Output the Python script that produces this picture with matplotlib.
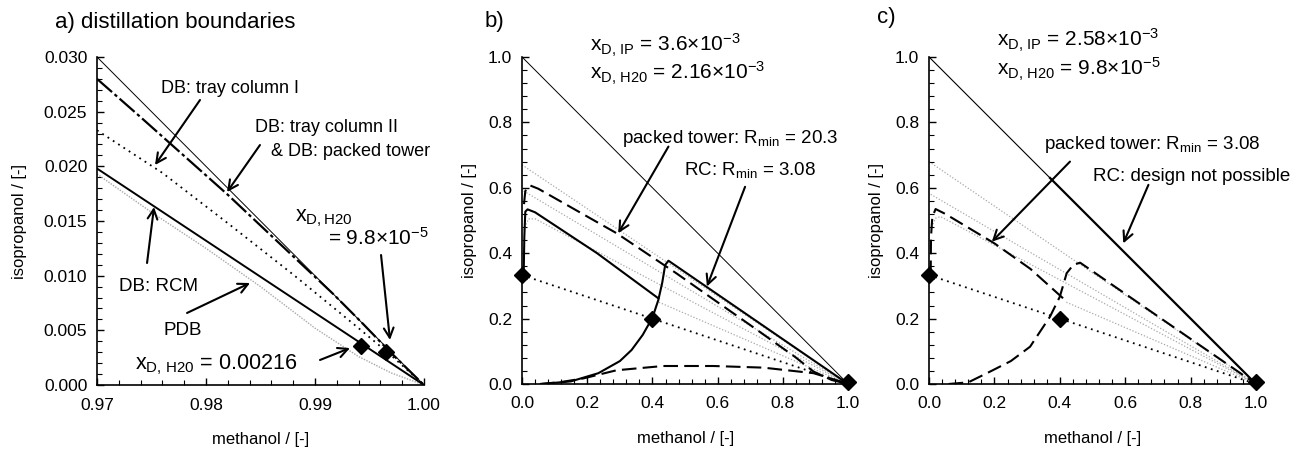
import matplotlib
matplotlib.use("Agg")
import matplotlib.pyplot as plt
from matplotlib.ticker import MultipleLocator, FormatStrFormatter

plt.rcParams['font.family'] = ['Liberation Sans', 'DejaVu Sans']
plt.rcParams['mathtext.fontset'] = 'custom'
plt.rcParams['mathtext.rm'] = 'Liberation Sans'
plt.rcParams['mathtext.it'] = 'Liberation Sans:italic'

# ----- a) distillation boundaries (zoom near pure methanol) -----
a_edge_x = [0.97, 1.0]
a_edge_y = [0.030, 0.0]
a_tray2_x = [0.970, 0.974, 0.982, 0.9917, 0.9944, 0.997, 1.0]
a_tray2_y = [0.0280, 0.0245, 0.0174, 0.0083, 0.0056, 0.0029, 0.0]
a_tray1_x = [0.970, 0.976, 0.982, 0.988, 0.994, 0.997, 1.0]
a_tray1_y = [0.0233, 0.0194, 0.0148, 0.0101, 0.0052, 0.0027, 0.0]
a_rcm_x = [0.97, 1.0]
a_rcm_y = [0.0198, 0.0]
a_pdb_x = [0.970, 0.975, 0.980, 0.985, 0.990, 0.994, 0.997, 1.0]
a_pdb_y = [0.0193, 0.0158, 0.0125, 0.0090, 0.0052, 0.0026, 0.0011, 0.0]
a_dist_x = [0.9942, 0.9965]
a_dist_y = [0.0036, 0.0030]

# ----- b) packed tower vs. reflux column -----
b_edge_x = [0.0, 1.0]
b_edge_y = [1.0, 0.0]
b_feed_x = [0.0, 1.0]
b_feed_y = [0.333, 0.0]
b_pts_x = [0.0, 0.4, 1.0]
b_pts_y = [0.333, 0.2, 0.005]
b_rc_top_x = [0.005, 0.007, 0.010, 0.017, 0.04, 0.23, 0.418]
b_rc_top_y = [0.333, 0.45, 0.527, 0.534, 0.525, 0.40, 0.262]
b_rc_bot_x = [0.06, 0.15, 0.234, 0.30, 0.336, 0.37, 0.40, 0.418, 0.43, 0.439, 0.449, 1.0]
b_rc_bot_y = [0.0, 0.008, 0.033, 0.07, 0.104, 0.15, 0.203, 0.257, 0.31, 0.364, 0.377, 0.0]
b_pt_top_x = [0.006, 0.010, 0.025, 0.05, 0.29, 0.474, 0.571, 0.70, 0.837, 0.894, 0.95, 1.0]
b_pt_top_y = [0.55, 0.59, 0.607, 0.597, 0.461, 0.338, 0.27, 0.18, 0.083, 0.038, 0.012, 0.0]
b_pt_bot_x = [0.055, 0.12, 0.188, 0.29, 0.433, 0.587, 0.74, 0.894, 0.996]
b_pt_bot_y = [0.0, 0.006, 0.017, 0.042, 0.055, 0.055, 0.05, 0.033, 0.002]
b_grey = [
    ([0.0, 1.0], [0.67, 0.0]),
    ([0.005, 1.0], [0.59, 0.0]),
    ([0.005, 0.02, 0.04, 1.0], [0.47, 0.505, 0.505, 0.0]),
    ([0.42, 1.0], [0.25, 0.0]),
]

# ----- c) packed tower, RC not feasible -----
c_edge_thin_x = [0.0, 0.37]
c_edge_thin_y = [1.0, 0.63]
c_edge_thick_x = [0.37, 1.0]
c_edge_thick_y = [0.63, 0.0]
c_feed_x = [0.0, 1.0]
c_feed_y = [0.333, 0.0]
c_pts_x = [0.0, 0.4, 1.0]
c_pts_y = [0.333, 0.2, 0.005]
c_pt_top_x = [0.005, 0.006, 0.010, 0.020, 0.05, 0.20, 0.31, 0.41]
c_pt_top_y = [0.333, 0.45, 0.51, 0.535, 0.52, 0.43, 0.352, 0.262]
c_pt_bot_x = [0.06, 0.12, 0.177, 0.25, 0.309, 0.37, 0.40, 0.421, 0.441, 0.462, 1.0]
c_pt_bot_y = [0.0, 0.005, 0.033, 0.07, 0.114, 0.206, 0.267, 0.339, 0.364, 0.371, 0.0]
c_grey = [
    ([0.0, 1.0], [0.68, 0.0]),
    ([0.005, 1.0], [0.58, 0.0]),
    ([0.008, 0.02, 0.035, 1.0], [0.48, 0.507, 0.512, 0.0]),
    ([0.42, 1.0], [0.25, 0.0]),
]

DASH = (0, (7, 3))
DASHDOT = (0, (9, 1.5, 1.5, 1.5))
DOTS = (0, (1, 2.5))
GREY = '#a8a8a8'
ARROW = dict(arrowstyle='->,head_length=0.7,head_width=0.35', lw=1.5, color='black',
             shrinkA=0, shrinkB=0)


def arrow(ax, tail, tip):
    ax.annotate('', xy=tip, xytext=tail, arrowprops=ARROW, annotation_clip=False)


def style_axes(ax, xmaj, xmin, ymaj, ymin, xfmt, yfmt, ypad):
    for side in ('top', 'right'):
        ax.spines[side].set_visible(False)
    for side in ('left', 'bottom'):
        ax.spines[side].set_linewidth(1.2)
    ax.xaxis.set_major_locator(MultipleLocator(xmaj))
    ax.xaxis.set_minor_locator(MultipleLocator(xmin))
    ax.yaxis.set_major_locator(MultipleLocator(ymaj))
    ax.yaxis.set_minor_locator(MultipleLocator(ymin))
    ax.xaxis.set_major_formatter(FormatStrFormatter(xfmt))
    ax.yaxis.set_major_formatter(FormatStrFormatter(yfmt))
    ax.tick_params(which='major', direction='in', length=5, width=1.0, labelsize=12.5)
    ax.tick_params(axis='x', which='major', pad=9)
    ax.tick_params(axis='y', which='major', pad=7)
    ax.tick_params(which='minor', direction='in', length=3.5, width=0.8)
    ax.tick_params(top=False, right=False, which='both')
    ax.set_xlabel('methanol / [-]', fontsize=12, labelpad=14)
    ax.set_ylabel('isopropanol / [-]', fontsize=12, labelpad=ypad)


fig = plt.figure(figsize=(12.97, 4.49), dpi=100)
ax_a = fig.add_axes([0.0748, 0.1425, 0.2521, 0.7305])
ax_b = fig.add_axes([0.4025, 0.1448, 0.2514, 0.7283])
ax_c = fig.add_axes([0.7163, 0.1448, 0.2521, 0.7283])

# ----- panel a -----
ax = ax_a
ax.plot(a_edge_x, a_edge_y, color='black', lw=0.7)
ax.plot(a_pdb_x, a_pdb_y, color=GREY, lw=1.0, linestyle=(0, (1, 1)))
ax.plot(a_rcm_x, a_rcm_y, color='black', lw=1.4)
ax.plot(a_tray1_x, a_tray1_y, color='black', lw=1.3, linestyle=DOTS)
ax.plot(a_tray2_x, a_tray2_y, color='black', lw=1.6, linestyle=DASHDOT)
ax.plot(a_dist_x, a_dist_y, 'D', color='black', ms=8, clip_on=False, zorder=5)
ax.set_xlim(0.97, 1.0)
ax.set_ylim(0.0, 0.030)
style_axes(ax, 0.01, 0.002, 0.005, 0.001, '%.2f', '%.3f', 12)

ax.text(0.97587, 0.02716, 'DB: tray column I', fontsize=13, va='center')
arrow(ax, (0.97945, 0.02607), (0.97532, 0.02012))
ax.text(0.98450, 0.02351, 'DB: tray column II', fontsize=13, va='center')
ax.text(0.98596, 0.02140, '& DB: packed tower', fontsize=13, va='center')
arrow(ax, (0.98495, 0.02195), (0.98193, 0.01765))
ax.text(0.98817, 0.01527, r'$\mathregular{x_{D,H20}}$', fontsize=15.5, va='center')
ax.text(0.99119, 0.01345, r'= 9.8$\mathregular{{\times}10^{-5}}$', fontsize=15,
        va='center', clip_on=False)
arrow(ax, (0.99606, 0.01189), (0.99688, 0.00412))
ax.text(0.97202, 0.00905, 'DB: RCM', fontsize=13.5, va='center')
arrow(ax, (0.97459, 0.01116), (0.97523, 0.01628))
ax.text(0.97606, 0.00503, 'PDB', fontsize=13.5, va='center')
arrow(ax, (0.97826, 0.00659), (0.98404, 0.00933))
ax.text(0.97349, 0.00183, r'$\mathregular{x_{D,\,H20}}$ = 0.00216', fontsize=15.5,
        va='center')
arrow(ax, (0.99046, 0.00229), (0.99321, 0.00338))
fig.text(0.0424, 0.949, 'a) distillation boundaries', fontsize=16, va='center')

# ----- panel b -----
ax = ax_b
for gx, gy in b_grey:
    ax.plot(gx, gy, color=GREY, lw=0.9, linestyle=(0, (1, 1.5)))
ax.plot(b_edge_x, b_edge_y, color='black', lw=0.7)
ax.plot(b_feed_x, b_feed_y, color='black', lw=1.3, linestyle=DOTS)
ax.plot(b_rc_top_x, b_rc_top_y, color='black', lw=1.5)
ax.plot(b_rc_bot_x, b_rc_bot_y, color='black', lw=1.5)
ax.plot(b_pt_top_x, b_pt_top_y, color='black', lw=1.5, linestyle=DASH)
ax.plot(b_pt_bot_x, b_pt_bot_y, color='black', lw=1.5, linestyle=DASH)
ax.plot(b_pts_x, b_pts_y, 'D', color='black', ms=8, clip_on=False, zorder=5)
ax.set_xlim(0.0, 1.0)
ax.set_ylim(0.0, 1.0)
style_axes(ax, 0.2, 0.04, 0.2, 0.04, '%.1f', '%.1f', 8)

ax.text(0.209, 1.035, r'$\mathregular{x_{D,\,IP}}$ = 3.6$\mathregular{{\times}10^{-3}}$',
        fontsize=15, va='center', clip_on=False)
ax.text(0.209, 0.950, r'$\mathregular{x_{D,\,H20}}$ = 2.16$\mathregular{{\times}10^{-3}}$',
        fontsize=15, va='center')
ax.text(0.306, 0.752, r'packed tower: R$\mathregular{_{min}}$ = 20.3', fontsize=13.5,
        va='center')
arrow(ax, (0.449, 0.726), (0.295, 0.461))
ax.text(0.497, 0.654, r'RC: R$\mathregular{_{min}}$ = 3.08', fontsize=13.5, va='center')
arrow(ax, (0.684, 0.603), (0.567, 0.298))
fig.text(485 / 1297, 1 - 22 / 449, 'b)', fontsize=16, va='center')

# ----- panel c -----
ax = ax_c
for gx, gy in c_grey:
    ax.plot(gx, gy, color=GREY, lw=0.9, linestyle=(0, (1, 1.5)))
ax.plot(c_edge_thin_x, c_edge_thin_y, color='black', lw=0.8)
ax.plot(c_edge_thick_x, c_edge_thick_y, color='black', lw=1.6)
ax.plot(c_feed_x, c_feed_y, color='black', lw=1.3, linestyle=DOTS)
ax.plot(c_pt_top_x, c_pt_top_y, color='black', lw=1.5, linestyle=DASH)
ax.plot(c_pt_bot_x, c_pt_bot_y, color='black', lw=1.5, linestyle=DASH)
ax.plot(c_pts_x, c_pts_y, 'D', color='black', ms=8, clip_on=False, zorder=5)
ax.set_xlim(0.0, 1.0)
ax.set_ylim(0.0, 1.0)
style_axes(ax, 0.2, 0.04, 0.2, 0.04, '%.1f', '%.1f', 8)

ax.text(0.207, 1.050, r'$\mathregular{x_{D,\,IP}}$ = 2.58$\mathregular{{\times}10^{-3}}$',
        fontsize=15, va='center', clip_on=False)
ax.text(0.207, 0.962, r'$\mathregular{x_{D,\,H20}}$ = 9.8$\mathregular{{\times}10^{-5}}$',
        fontsize=15, va='center')
ax.text(0.352, 0.731, r'packed tower: R$\mathregular{_{min}}$ = 3.08', fontsize=13.5,
        va='center')
arrow(ax, (0.431, 0.680), (0.192, 0.435))
ax.text(0.500, 0.634, 'RC: design not possible', fontsize=13.5, va='center',
        clip_on=False)
arrow(ax, (0.671, 0.609), (0.594, 0.430))
fig.text(877 / 1297, 1 - 18 / 449, 'c)', fontsize=16, va='center')

fig.savefig('out.png', dpi=100)
